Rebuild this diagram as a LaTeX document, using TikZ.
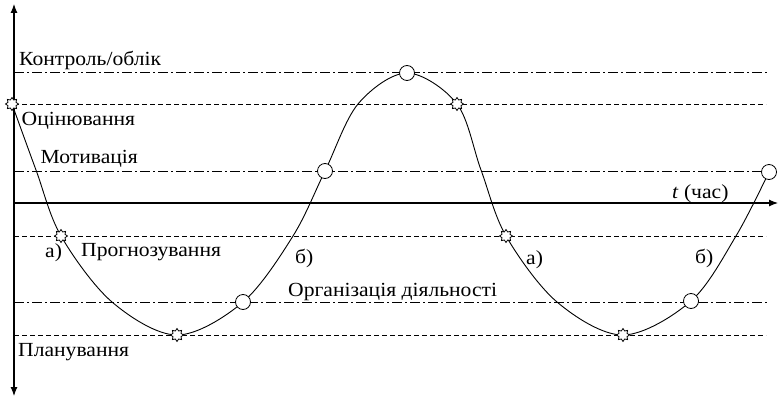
\documentclass[tikz,border=0pt]{standalone}
\usepackage{fontspec}
\setmainfont{Liberation Serif}[FakeStretch=1.08]
\usetikzlibrary{shapes.geometric,arrows.meta}
\begin{document}
\begin{tikzpicture}[x=1pt,y=-1pt,
 lbl/.style={anchor=base west,inner sep=0pt,font=\fontsize{20}{22}\selectfont},
 dd/.style={line width=0.8pt,dash pattern=on 10pt off 3pt on 2pt off 3pt},
 ds/.style={line width=0.8pt,dash pattern=on 5pt off 3pt},
 axis/.style={line width=1.1pt},
 tip/.style={-{Latex[length=9pt,width=7pt]}},
 curve/.style={line width=0.9pt},
 starm/.style={star,star points=8,star point ratio=1.5,minimum size=13pt,inner sep=0pt,draw,fill=white,line width=0.8pt},
 circm/.style={circle,minimum size=15pt,inner sep=0pt,draw,fill=white,line width=0.8pt}]
\useasboundingbox (0,0) rectangle (778,396);
% axes
\coordinate (O) at (14,203);
\coordinate (top) at (14,4);
\coordinate (bot) at (14,396);
\coordinate (right) at (778,203);
\draw[axis,{Latex[length=9pt,width=7pt]}-{Latex[length=9pt,width=7pt]}] (top) -- (bot);
\draw[axis,tip] (O) -- (right);
% level lines
\coordinate (k0) at (14,72);  \coordinate (k1) at (769,72);
\coordinate (o0) at (14,104); \coordinate (o1) at (766,104);
\coordinate (m0) at (14,171); \coordinate (m1) at (769,171);
\coordinate (p0) at (14,236); \coordinate (p1) at (766,236);
\coordinate (r0) at (14,302); \coordinate (r1) at (769,302);
\coordinate (l0) at (14,335); \coordinate (l1) at (766,335);
\draw[dd] (k0) -- (k1);
\draw[ds] (o0) -- (o1);
\draw[dd] (m0) -- (m1);
\draw[ds] (p0) -- (p1);
\draw[dd] (r0) -- (r1);
\draw[ds] (l0) -- (l1);
% curve
\draw[curve] plot[smooth,tension=0.55] coordinates {(12,104) (36,170) (61,236) (112,302) (177,335) (243,302) (293,236) (325,171) (358,104) (407,73) (457,104) (481,170) (506,236) (557,302) (623,335) (691,301) (736,236) (769,172)};
% markers
\node[starm] (s1) at (12,104) {};
\node[starm] (s2) at (61,236) {};
\node[starm] (s3) at (177,335) {};
\node[circm] (c1) at (243,302) {};
\node[circm] (c2) at (325,171) {};
\node[circm] (c3) at (407,73) {};
\node[starm] (s4) at (457,104) {};
\node[starm] (s5) at (506,236) {};
\node[starm] (s6) at (623,335) {};
\node[circm] (c4) at (691,301) {};
\node[circm] (c5) at (769,172) {};
% labels
\node[lbl] (tk) at (19,65.7) {Контроль/облік};
\node[lbl] (to) at (21.5,125) {Оцінювання};
\node[lbl] (tm) at (40.5,163.5) {Мотивація};
\node[lbl] (tp) at (81,256) {Прогнозування};
\node[lbl] (ta1) at (45,257) {а)};
\node[lbl] (tb1) at (295,263) {б)};
\node[lbl] (tr) at (288,296.7) {Організація діяльності};
\node[lbl] (ta2) at (526,264) {а)};
\node[lbl] (tb2) at (695,263) {б)};
\node[lbl] (tl) at (18,356.5) {Планування};
\node[lbl] (tt) at (672,198) {\textit{t} (час)};
\end{tikzpicture}
\end{document}
